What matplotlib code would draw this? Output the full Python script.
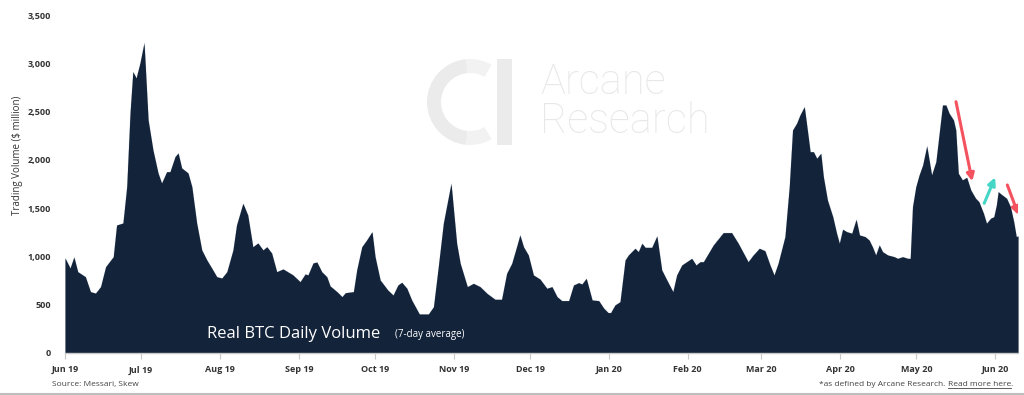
import numpy as np
import pandas as pd
import matplotlib
matplotlib.use('Agg')
import matplotlib.pyplot as plt
import matplotlib.dates as mdates
from matplotlib.patches import Wedge, Rectangle, FancyArrowPatch

plt.rcParams['font.family'] = ['Open Sans', 'DejaVu Sans']

# ---- data ----
start_date = '2019-06-01'
# days since start_date, 7-day average real BTC volume ($ million)
days = [0, 2, 3.5, 5, 8, 10, 12, 14, 16, 18, 19, 20.3, 22.8, 24.3, 25.6, 26.7, 28, 29.5,
        31.1, 32.7, 34.6, 36.6, 38, 40, 41.3, 43.3, 44.5, 45.9, 48.4, 49.9, 51.8, 53.8,
        55.8, 57.7, 59.7, 61.7, 63.7, 66.1, 67.5, 70, 71.9, 73.9, 75.9, 77.9, 79.4, 81.3,
        83.3, 85.8, 89.7, 92.5, 94.5, 95.6, 97.6, 99.1, 101, 103, 104.3, 107, 109, 110.3,
        113.5, 114.8, 116.8, 118.7, 120.8, 122, 124, 127, 129.1, 131, 132.5, 134.5, 136.4,
        139.4, 143, 145, 146.9, 148.9, 151.9, 154.1, 155.5, 158.3, 160.7, 163.3, 166,
        169.2, 171.8, 173.8, 175.8, 177.7, 179, 180.4, 182.3, 184.3, 186.9, 189.6, 191.6,
        193.6, 195.5, 198.2, 200.1, 202.1, 203.4, 205.1, 207.4, 210, 212, 213.7, 214.7,
        216.4, 218.4, 220.4, 221.7, 224.3, 225.6, 227, 228.3, 230.9, 232.9, 234.8, 236.8,
        239.2, 240.7, 242.7, 246.6, 248.3, 249.9, 251.2, 255.1, 259, 262.3, 264.9, 268.8,
        270.8, 273.2, 275.4, 277.4, 279, 280.6, 283.3, 285, 286.3, 287.9, 289.2, 290.9,
        292.1, 293.2, 294.5, 295.8, 297.4, 298.4, 300, 302.1, 303.6, 304.7, 306, 307.6,
        309.6, 311.3, 312.6, 314.8, 316.4, 317.7, 319, 320.4, 321.7, 323.7, 326.3, 327.6,
        329.6, 331.6, 332.6, 333.5, 334.8, 336.1, 337.5, 339.1, 341, 342.7, 344, 345.3,
        346.6, 347.9, 349.6, 350.5, 351.5, 353.1, 354.8, 356.4, 358.3, 359.6, 361.4,
        362.6, 364.2, 365.5, 366.5, 367.2, 368.8, 370.5, 372, 373.3, 374.3, 375]
volume = [984, 880, 994, 842, 790, 635, 620, 687, 894, 963, 997, 1325, 1346, 1722, 2485, 2913,
          2848, 3003, 3213, 2413, 2102, 1864, 1760, 1877, 1877, 2033, 2071, 1916, 1864, 1722,
          1346, 1067, 963, 880, 790, 776, 842, 1067, 1325, 1550, 1429, 1100, 1139, 1067, 1100,
          1035, 842, 870, 808, 738, 818, 808, 932, 942, 842, 790, 694, 635, 583, 624,
          635, 860, 1100, 1170, 1256, 997, 756, 652, 600, 704, 732, 670, 549,
          404, 404, 479, 894, 1346, 1757, 1136, 928, 687, 721, 687, 618,
          556, 556, 825, 928, 1100, 1222, 1100, 1015, 808, 765, 670, 687,
          583, 542, 542, 704, 728, 714, 773, 549, 542, 463, 418, 418,
          497, 531, 963, 1015, 1084, 1049, 1136, 1094, 1094, 1212, 860, 756,
          635, 808, 911, 980, 911, 945, 945, 1118, 1246, 1246, 1136, 945,
          1015, 1084, 1059, 911, 808, 928, 1205, 1722, 2309, 2379, 2464, 2550,
          2309, 2084, 2084, 2016, 2067, 1826, 1584, 1411, 1240, 1136, 1281, 1256,
          1240, 1384, 1222, 1205, 1170, 1100, 1015, 1118, 1049, 1015, 997, 980,
          997, 980, 980, 1515, 1722, 1843, 1947, 2144, 1843, 1981, 2275, 2568,
          2568, 2482, 2413, 2309, 1861, 1792, 1819, 1688, 1602, 1567, 1447,
          1343, 1395, 1411, 1533, 1670, 1636, 1602, 1515, 1360, 1205, 1212]

# annotation arrows: (start day, start value) -> (end day, end value)
arrow_start_days = [350.6, 361.7, 370.8]
arrow_start_vals = [2602, 1550, 1740]
arrow_end_days = [357.0, 366.0, 375.2]
arrow_end_vals = [1779, 1819, 1429]
arrow_colors = ['#f4525f', '#45d6c6', '#f4525f']

yticks = [0, 500, 1000, 1500, 2000, 2500, 3000, 3500]

area_color = '#13233a'
W, H = 1024, 395


def fx(px):
    return px / W


def fy(py):
    return 1 - py / H


fig = plt.figure(figsize=(W / 100, H / 100), dpi=100)
fig.patch.set_facecolor('white')

# background overlay in pixel coords, for the watermark
bg = fig.add_axes([0, 0, 1, 1], zorder=0)
bg.set_xlim(0, W)
bg.set_ylim(H, 0)
bg.axis('off')
wm = '#ebebeb'
bg.add_patch(Wedge((470, 102), 43, 95, 265, width=14, color=wm, lw=0))
bg.add_patch(Wedge((470, 102), 43, 265, 300, width=14, color='#f2f2f2', lw=0))
bg.add_patch(Wedge((470, 102), 43, 60, 95, width=14, color='#f2f2f2', lw=0))
bg.add_patch(Rectangle((497, 59), 15, 86, color=wm, lw=0))
bg.text(540, 94, 'Arcane', fontsize=30, color='#e8e8e8', family=['Roboto', 'DejaVu Sans'],
        fontweight='light', va='baseline', ha='left')
bg.text(540, 133, 'Research', fontsize=30, color='#e8e8e8', family=['Roboto', 'DejaVu Sans'],
        fontweight='light', va='baseline', ha='left')
bg.plot([0, W], [393.5, 393.5], color='#bdbdbd', lw=1.5)

ax = fig.add_axes([fx(65), 42 / H, (1018 - 65) / W, 338 / H], zorder=1)
ax.patch.set_alpha(0)

t0 = mdates.date2num(pd.Timestamp(start_date))
x = t0 + np.array(days)
ax.fill_between(x, 0, volume, color=area_color, lw=0.6, edgecolor='#dfe4ea')
ax.fill_between(x, 0, volume, color=area_color, lw=0)

ax.set_xlim(t0, t0 + 375)
ax.set_ylim(0, 3500)
ax.set_yticks(yticks)
ax.yaxis.set_major_formatter(matplotlib.ticker.FuncFormatter(lambda v, p: f'{int(v):,}'))
ax.xaxis.set_major_locator(mdates.MonthLocator())
ax.xaxis.set_major_formatter(mdates.DateFormatter('%b %y'))

for s in ['top', 'right', 'left']:
    ax.spines[s].set_visible(False)
ax.spines['bottom'].set_color('#c8c8c8')
ax.spines['bottom'].set_linewidth(1)
ax.tick_params(axis='y', length=0, pad=10, labelsize=6.5, labelcolor='#333333')
ax.tick_params(axis='x', length=4, color='#c8c8c8', pad=5, labelsize=6.5, labelcolor='#333333')
for lab in ax.get_xticklabels() + ax.get_yticklabels():
    lab.set_fontweight('bold')

fig.text(fx(18), fy(155), 'Trading Volume ($ million)', fontsize=7, color='#333333',
         rotation=90, ha='center', va='center')

for sd, sv, ed, ev, c in zip(arrow_start_days, arrow_start_vals, arrow_end_days,
                             arrow_end_vals, arrow_colors):
    ax.add_patch(FancyArrowPatch((t0 + sd, sv), (t0 + ed, ev), arrowstyle='-|>',
                                 mutation_scale=11, color=c, lw=2.2, shrinkA=0, shrinkB=0,
                                 zorder=5))

# chart title inside the area (drawn above the axes)
fig.text(fx(207), fy(338), 'Real BTC Daily Volume', fontsize=12, color='white',
         va='baseline', zorder=5)
fig.text(fx(395), fy(337), '(7-day average)', fontsize=7, color='white',
         va='baseline', zorder=5)

# footer texts
foot_y = 386
bg.text(52, foot_y, 'Source: Messari, Skew', fontsize=6, color='#444444', va='baseline')

fig.canvas.draw()
r = fig.canvas.get_renderer()
inv = bg.transData.inverted()
t_dot = bg.text(1013, foot_y, '.', fontsize=6, color='#444444', va='baseline', ha='right')
bb = t_dot.get_window_extent(r)
xl = inv.transform((bb.x0, bb.y0))[0]
t_link = bg.text(xl, foot_y, 'Read more here', fontsize=6, color='#444444',
                 va='baseline', ha='right')
bb2 = t_link.get_window_extent(r)
x0 = inv.transform((bb2.x0, bb2.y0))[0]
bg.plot([x0, xl], [foot_y + 2, foot_y + 2], color='#444444', lw=0.6)
bg.text(x0, foot_y, '*as defined by Arcane Research. ', fontsize=6, color='#444444',
        va='baseline', ha='right')

fig.savefig('out.png', dpi=100)
